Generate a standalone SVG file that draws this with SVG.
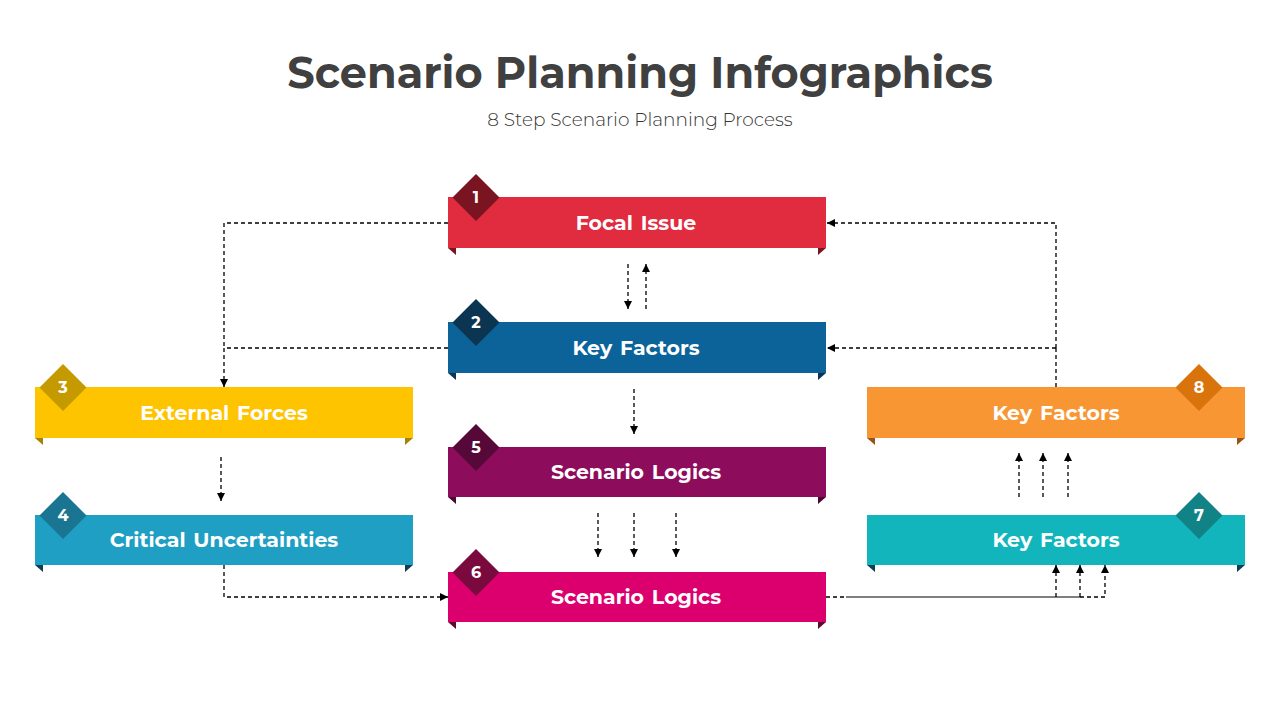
<svg xmlns="http://www.w3.org/2000/svg" width="1280" height="720" viewBox="0 0 1280 720">
<defs>
<marker id="ah" markerWidth="10" markerHeight="10" refX="9" refY="5" orient="auto" markerUnits="userSpaceOnUse">
<path d="M1,1 L9,5 L1,9 Z" fill="#000"/>
</marker>
<style>
.lbl{font-family:"Montserrat","Open Sans","Liberation Sans",sans-serif;font-weight:700;font-size:20.5px;word-spacing:2px;fill:#fff;text-anchor:middle;dominant-baseline:central}
.num{font-family:"Montserrat","Open Sans","Liberation Sans",sans-serif;font-weight:700;font-size:16px;fill:#fff;text-anchor:middle;dominant-baseline:central}
.dash{fill:none;stroke:#000;stroke-width:1.3;stroke-dasharray:4 3}
.arr{fill:none;stroke:#000;stroke-width:1.3;stroke-dasharray:4 3;marker-end:url(#ah)}
</style>
</defs>
<rect width="1280" height="720" fill="#fff"/>
<text x="640" y="88" text-anchor="middle" font-family="Montserrat,'Open Sans','Liberation Sans',sans-serif" font-weight="700" font-size="43" fill="#404040">Scenario Planning Infographics</text>
<text x="640" y="126" text-anchor="middle" font-family="Montserrat,'Open Sans','Liberation Sans',sans-serif" font-weight="300" font-size="18.5" fill="#333">8 Step Scenario Planning Process</text>

<g id="connectors">
<path class="dash" d="M448,223 H224 V348"/>
<path class="arr" d="M448,348 H224 V387"/>
<path class="dash" d="M1056,387 V348"/>
<path class="arr" d="M1056,348 V223 H827"/>
<path class="arr" d="M1056,348 H827"/>
<path class="arr" d="M628,264 V309"/>
<path class="arr" d="M646,309 V264"/>
<path class="arr" d="M634,389 V434"/>
<path class="arr" d="M598,513 V557"/>
<path class="arr" d="M634,513 V557"/>
<path class="arr" d="M676,513 V557"/>
<path class="arr" d="M221,457 V501"/>
<path class="arr" d="M224,565 V597 H448"/>
<path class="dash" d="M826,597 H846"/>
<path fill="none" stroke="#000" stroke-width="1.2" d="M846,597 H1080"/>
<path class="arr" d="M1056,597 V565"/>
<path class="arr" d="M1080,597 V565"/>
<path class="arr" d="M1080,597 H1105 V565"/>
<path class="arr" d="M1019,497 V453"/>
<path class="arr" d="M1043,497 V453"/>
<path class="arr" d="M1068,497 V453"/>
</g>

<g id="node1">
<path d="M448,248 H456 V255 Z M818,248 H826 L818,255 Z" fill="#7A1420"/>
<rect x="448" y="197" width="378" height="51" fill="#E12B3F"/>
<path d="M476,174 L499.5,197.5 L476,221 L452.5,197.5 Z" fill="#7A1420"/>
<text class="num" x="476" y="197">1</text>
<text class="lbl" x="636" y="222">Focal Issue</text>
</g>
<g id="node2">
<path d="M448,373 H456 V380 Z M818,373 H826 L818,380 Z" fill="#0B3550"/>
<rect x="448" y="322" width="378" height="51" fill="#0B6399"/>
<path d="M476,299 L499.5,322.5 L476,346 L452.5,322.5 Z" fill="#0B3550"/>
<text class="num" x="476" y="322">2</text>
<text class="lbl" x="636" y="347">Key Factors</text>
</g>
<g id="node3">
<path d="M35,438 H43 V445 Z M405,438 H413 L405,445 Z" fill="#A6820A"/>
<rect x="35" y="387" width="378" height="51" fill="#FFC400"/>
<path d="M63,364 L86.5,387.5 L63,411 L39.5,387.5 Z" fill="#C49A00"/>
<text class="num" x="63" y="387">3</text>
<text class="lbl" x="224" y="412">External Forces</text>
</g>
<g id="node4">
<path d="M35,565 H43 V572 Z M405,565 H413 L405,572 Z" fill="#0E3E55"/>
<rect x="35" y="515" width="378" height="50" fill="#1F9FC4"/>
<path d="M63,492 L86.5,515.5 L63,539 L39.5,515.5 Z" fill="#197591"/>
<text class="num" x="63" y="515">4</text>
<text class="lbl" x="224" y="539">Critical Uncertainties</text>
</g>
<g id="node5">
<path d="M448,497 H456 V504 Z M818,497 H826 L818,504 Z" fill="#4E0732"/>
<rect x="448" y="447" width="378" height="50" fill="#8E0C5C"/>
<path d="M476,424 L499.5,447.5 L476,471 L452.5,447.5 Z" fill="#560838"/>
<text class="num" x="476" y="447">5</text>
<text class="lbl" x="636" y="471">Scenario Logics</text>
</g>
<g id="node6">
<path d="M448,622 H456 V629 Z M818,622 H826 L818,629 Z" fill="#5E0A30"/>
<rect x="448" y="572" width="378" height="50" fill="#DC006E"/>
<path d="M476,549 L499.5,572.5 L476,596 L452.5,572.5 Z" fill="#7A0A3E"/>
<text class="num" x="476" y="572">6</text>
<text class="lbl" x="636" y="596">Scenario Logics</text>
</g>
<g id="node7">
<path d="M867,565 H875 V572 Z M1237,565 H1245 L1237,572 Z" fill="#0E3E55"/>
<rect x="867" y="515" width="378" height="50" fill="#13B5BD"/>
<path d="M1199,492 L1222.5,515.5 L1199,539 L1175.5,515.5 Z" fill="#118386"/>
<text class="num" x="1199" y="515">7</text>
<text class="lbl" x="1056" y="539">Key Factors</text>
</g>
<g id="node8">
<path d="M867,438 H875 V445 Z M1237,438 H1245 L1237,445 Z" fill="#9A5310"/>
<rect x="867" y="387" width="378" height="51" fill="#F79632"/>
<path d="M1199,364 L1222.5,387.5 L1199,411 L1175.5,387.5 Z" fill="#D9740C"/>
<text class="num" x="1199" y="387">8</text>
<text class="lbl" x="1056" y="412">Key Factors</text>
</g>
</svg>
